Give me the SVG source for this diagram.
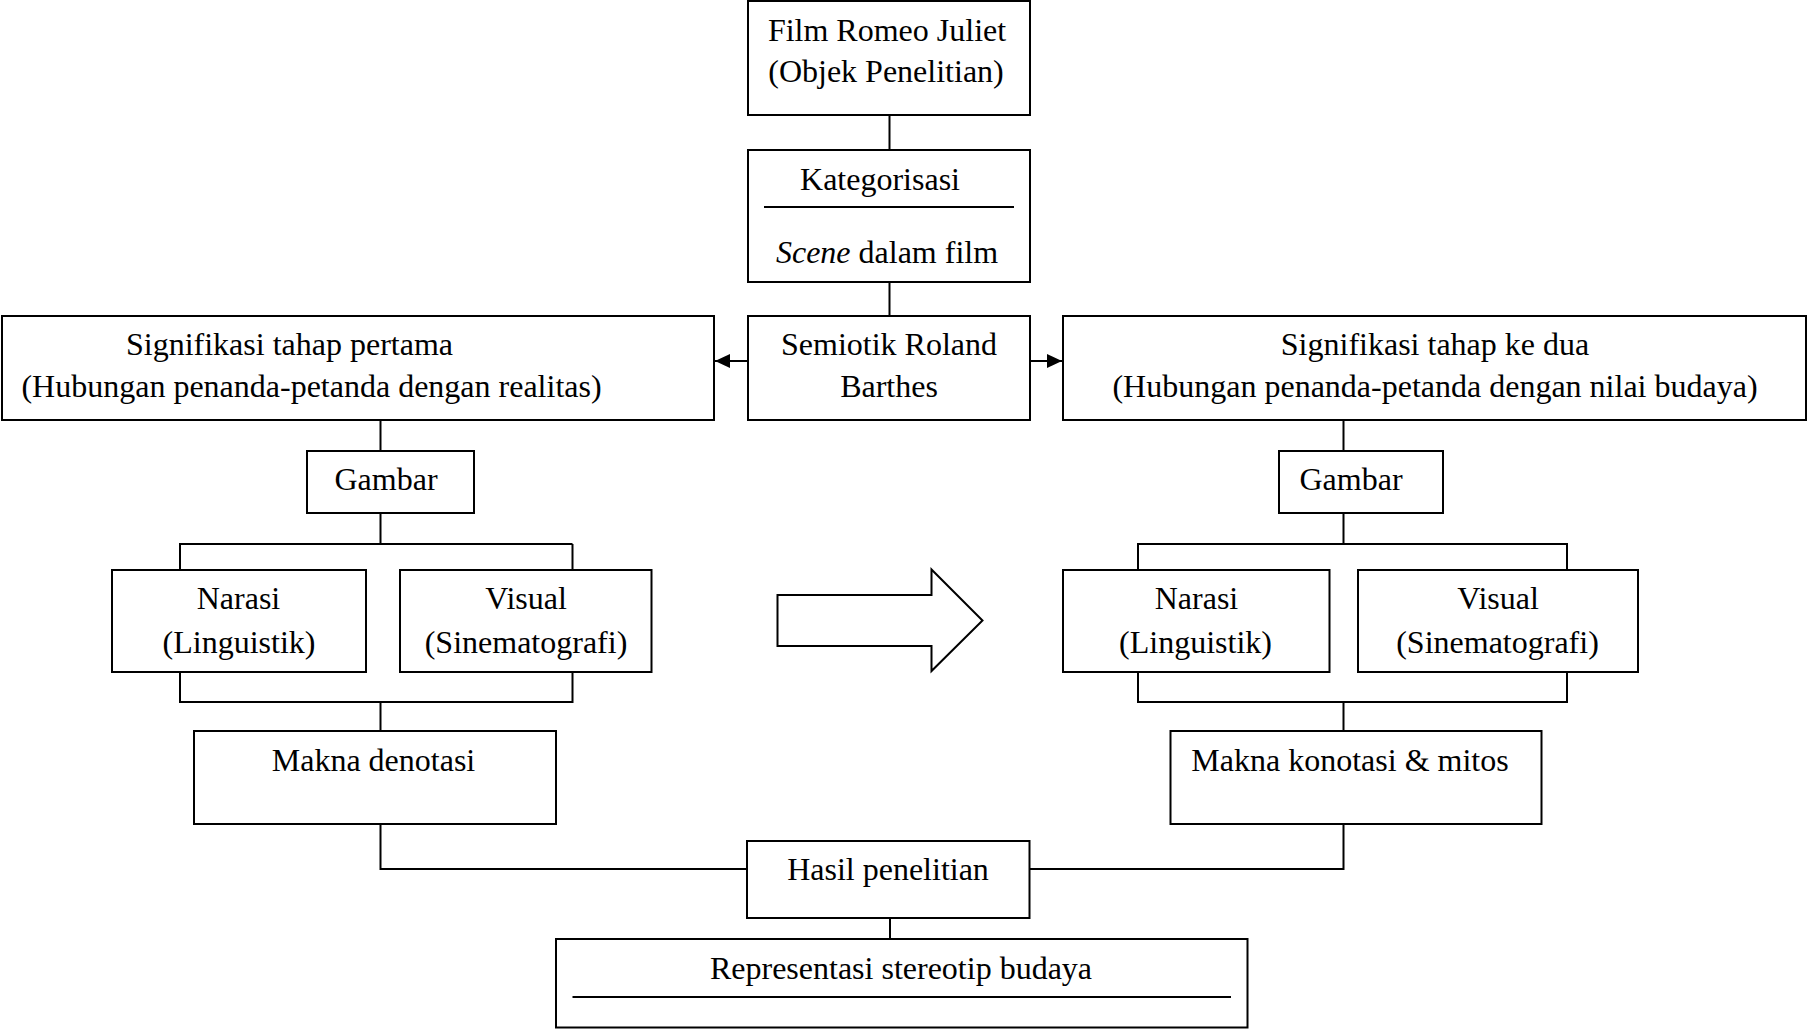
<svg xmlns="http://www.w3.org/2000/svg" width="1807" height="1029" viewBox="0 0 1807 1029">
<style>
.b{fill:#fff;stroke:#000;stroke-width:2}
.c{fill:none;stroke:#000;stroke-width:2}
text{font-family:"Liberation Serif","Times New Roman",serif;font-size:32px;fill:#000;text-anchor:middle}
</style>
<defs>
<marker id="ah" viewBox="0 0 15 14" refX="15" refY="7" markerWidth="15" markerHeight="14" markerUnits="userSpaceOnUse" orient="auto"><path d="M0,0 L15,7 L0,14 z" fill="#000"/></marker>
</defs>
<rect width="1807" height="1029" fill="#fff"/>
<g id="connectors">
<line class="c" x1="889.5" y1="115" x2="889.5" y2="150"/>
<line class="c" x1="889.5" y1="282" x2="889.5" y2="316"/>
<line class="c" x1="748" y1="361" x2="715" y2="361" marker-end="url(#ah)"/>
<line class="c" x1="1030" y1="361" x2="1062" y2="361" marker-end="url(#ah)"/>
<line class="c" x1="380.5" y1="420" x2="380.5" y2="451"/>
<polyline class="c" points="380.5,513 380.5,544 180,544 180,570"/>
<line class="c" x1="380.5" y1="544" x2="572.5" y2="544"/>
<line class="c" x1="572.5" y1="544" x2="572.5" y2="570"/>
<polyline class="c" points="180,672 180,702 572.5,702 572.5,672"/>
<line class="c" x1="380.5" y1="702" x2="380.5" y2="731"/>
<polyline class="c" points="380.5,824 380.5,869 747,869"/>
<line class="c" x1="1343.5" y1="420" x2="1343.5" y2="451"/>
<polyline class="c" points="1343.5,513 1343.5,544 1138,544 1138,570"/>
<polyline class="c" points="1343.5,544 1567,544 1567,570"/>
<polyline class="c" points="1138,672 1138,702 1567,702 1567,672"/>
<line class="c" x1="1343.5" y1="702" x2="1343.5" y2="731"/>
<polyline class="c" points="1343.5,824 1343.5,869 1029.5,869"/>
<line class="c" x1="890" y1="918" x2="890" y2="939"/>
</g>
<g id="film">
<rect class="b" x="748" y="1" width="282" height="114"/>
<text x="887" y="41">Film Romeo Juliet</text>
<text x="886" y="82">(Objek Penelitian)</text>
</g>
<g id="kategorisasi">
<rect class="b" x="748" y="150" width="282" height="132"/>
<text x="880" y="190">Kategorisasi</text>
<line class="c" x1="764" y1="207" x2="1014" y2="207"/>
<text x="887" y="263"><tspan font-style="italic">Scene</tspan> dalam film</text>
</g>
<g id="semiotik">
<rect class="b" x="748" y="316" width="282" height="104"/>
<text x="889" y="355">Semiotik Roland</text>
<text x="889" y="397">Barthes</text>
</g>
<g id="sig1">
<rect class="b" x="2" y="316" width="712" height="104"/>
<text x="289.5" y="355">Signifikasi tahap pertama</text>
<text x="311.5" y="397">(Hubungan penanda-petanda dengan realitas)</text>
</g>
<g id="sig2">
<rect class="b" x="1063" y="316" width="743" height="104"/>
<text x="1435" y="355">Signifikasi tahap ke dua</text>
<text x="1435" y="397">(Hubungan penanda-petanda dengan nilai budaya)</text>
</g>
<g id="gambar1">
<rect class="b" x="307" y="451" width="167" height="62"/>
<text x="386" y="490">Gambar</text>
</g>
<g id="gambar2">
<rect class="b" x="1279" y="451" width="164" height="62"/>
<text x="1351" y="490">Gambar</text>
</g>
<g id="narasi1">
<rect class="b" x="112" y="570" width="254" height="102"/>
<text x="238.5" y="609">Narasi</text>
<text x="239" y="653">(Linguistik)</text>
</g>
<g id="visual1">
<rect class="b" x="400" y="570" width="251.5" height="102"/>
<text x="526" y="609">Visual</text>
<text x="526" y="653">(Sinematografi)</text>
</g>
<g id="narasi2">
<rect class="b" x="1063" y="570" width="266.5" height="102"/>
<text x="1196.5" y="609">Narasi</text>
<text x="1195.5" y="653">(Linguistik)</text>
</g>
<g id="visual2">
<rect class="b" x="1358" y="570" width="280" height="102"/>
<text x="1498" y="609">Visual</text>
<text x="1497.5" y="653">(Sinematografi)</text>
</g>
<g id="arrow-big">
<polygon class="b" points="777.5,595 931.5,595 931.5,569.5 982.5,620.5 931.5,671 931.5,646 777.5,646"/>
</g>
<g id="denotasi">
<rect class="b" x="194" y="731" width="362" height="93"/>
<text x="373.5" y="771">Makna denotasi</text>
</g>
<g id="konotasi">
<rect class="b" x="1170.5" y="731" width="371" height="93"/>
<text x="1350" y="771">Makna konotasi &amp; mitos</text>
</g>
<g id="hasil">
<rect class="b" x="747" y="841" width="282.5" height="77"/>
<text x="888" y="880">Hasil penelitian</text>
</g>
<g id="representasi">
<rect class="b" x="556" y="939" width="691.5" height="88.5"/>
<text x="901" y="979">Representasi stereotip budaya</text>
<line class="c" x1="572.5" y1="997" x2="1231" y2="997"/>
</g>
</svg>
